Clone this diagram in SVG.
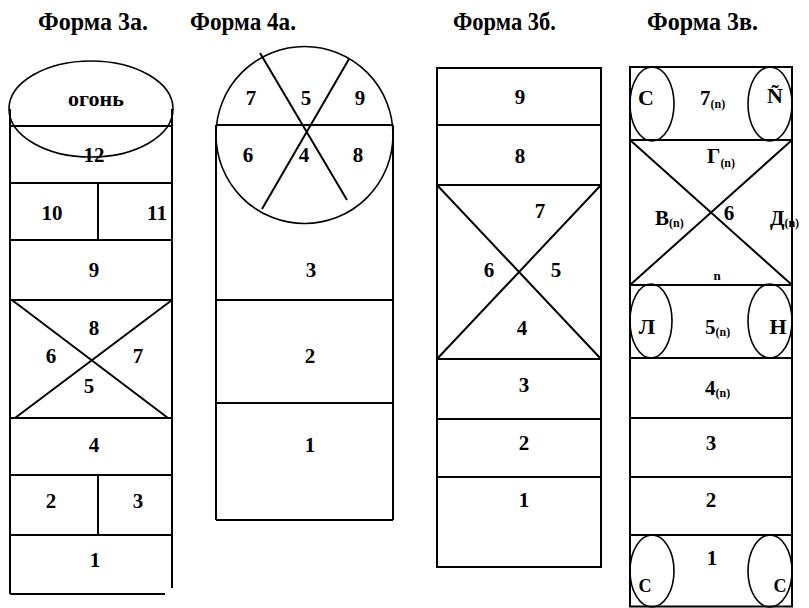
<svg xmlns="http://www.w3.org/2000/svg" width="809" height="608" viewBox="0 0 809 608">
<style>
.ln{stroke:#000;stroke-width:2;fill:none}
.el{stroke:#000;stroke-width:1.6;fill:none}
.t{font-family:"Liberation Serif","Times New Roman",serif;font-weight:bold;fill:#000}
.n{font-size:21px;text-anchor:middle}
.s{font-size:12px}
.ttl{font-size:25px}
</style>
<rect width="809" height="608" fill="#fff"/>
<g id="titles" class="t ttl">
<text x="38" y="30" textLength="110" lengthAdjust="spacingAndGlyphs">Форма 3а.</text>
<text x="190" y="30" textLength="106" lengthAdjust="spacingAndGlyphs">Форма 4а.</text>
<text x="453" y="30" textLength="103" lengthAdjust="spacingAndGlyphs">Форма 3б.</text>
<text x="647" y="30" textLength="111" lengthAdjust="spacingAndGlyphs">Форма 3в.</text>
</g>
<g id="form3a">
<ellipse class="el" cx="91" cy="109" rx="82" ry="48"/>
<path class="ln" d="M10 109V594M172 109V588M10 126H172M10 183H172M10 240H172M10 300H172M10 418H172M10 475H172M10 535H172M10 594H165M98 183V240M98 475V535M12 300L168 418M172 300L15 418"/>
<g class="t n">
<text x="96" y="106" font-size="22">огонь</text>
<text x="94" y="162">12</text>
<text x="52" y="220">10</text>
<text x="157" y="220">11</text>
<text x="94" y="277">9</text>
<text x="94" y="335">8</text>
<text x="51" y="363">6</text>
<text x="138" y="363">7</text>
<text x="89" y="393">5</text>
<text x="94" y="452">4</text>
<text x="51" y="508">2</text>
<text x="138" y="508">3</text>
<text x="95" y="567">1</text>
</g>
</g>
<g id="form4a">
<circle class="el" cx="304.5" cy="135" r="88.5"/>
<path class="ln" d="M216 125V520M393 125V520M216 125H393M216 300H393M216 403H393M216 520H393M260 53L347 200M349 59L262 209"/>
<g class="t n">
<text x="251" y="105">7</text>
<text x="306" y="105">5</text>
<text x="360" y="105">9</text>
<text x="248" y="162">6</text>
<text x="304" y="162">4</text>
<text x="358" y="162">8</text>
<text x="311" y="277">3</text>
<text x="310" y="363">2</text>
<text x="310" y="452">1</text>
</g>
</g>
<g id="form3b">
<path class="ln" d="M437 68H601V567H437ZM437 125H601M437 185H601M437 359H601M437 419H601M437 477H601M437 185L601 359M601 185L437 359"/>
<g class="t n">
<text x="520" y="104">9</text>
<text x="520" y="163">8</text>
<text x="540" y="218">7</text>
<text x="489" y="277">6</text>
<text x="556" y="277">5</text>
<text x="522" y="335">4</text>
<text x="524" y="392">3</text>
<text x="524" y="450">2</text>
<text x="524" y="507">1</text>
</g>
</g>
<g id="form3v">
<path class="ln" d="M630 67H792V606.5H630ZM630 140H792M630 285H792M630 358H792M630 418H792M630 477H792M630 535H792M630 140L792 285M792 140L630 285"/>
<ellipse class="el" cx="652" cy="104" rx="22" ry="37"/>
<ellipse class="el" cx="770" cy="104" rx="22" ry="37"/>
<ellipse class="el" cx="651" cy="321" rx="21" ry="37"/>
<ellipse class="el" cx="770" cy="321" rx="22" ry="37"/>
<ellipse class="el" cx="652" cy="571" rx="22" ry="36"/>
<ellipse class="el" cx="770" cy="571" rx="22" ry="36"/>
<g class="t n">
<text x="646" y="105" font-size="22">С</text>
<text x="775" y="103" font-size="22">Ñ</text>
<text x="729" y="220">6</text>
<text x="647" y="334" font-size="22">Л</text>
<text x="778" y="334" font-size="22">Н</text>
<text x="711" y="450">3</text>
<text x="711" y="507">2</text>
<text x="712" y="565">1</text>
<text x="645" y="592" font-size="18">С</text>
<text x="780" y="592" font-size="18">С</text>
<text x="717" y="280" font-size="13">n</text>
</g>
<g class="t">
<text x="700" y="105" font-size="21">7<tspan class="s" dy="3">(n)</tspan></text>
<text x="707" y="163" font-size="21">Г<tspan class="s" dy="4">(n)</tspan></text>
<text x="655" y="225" font-size="21">В<tspan class="s" dy="2">(n)</tspan></text>
<text x="770" y="225" font-size="21">Д<tspan class="s" dy="2">(n)</tspan></text>
<text x="705" y="334" font-size="21">5<tspan class="s" dy="2">(n)</tspan></text>
<text x="705" y="395" font-size="21">4<tspan class="s" dy="2">(n)</tspan></text>
</g>
</g>
</svg>
